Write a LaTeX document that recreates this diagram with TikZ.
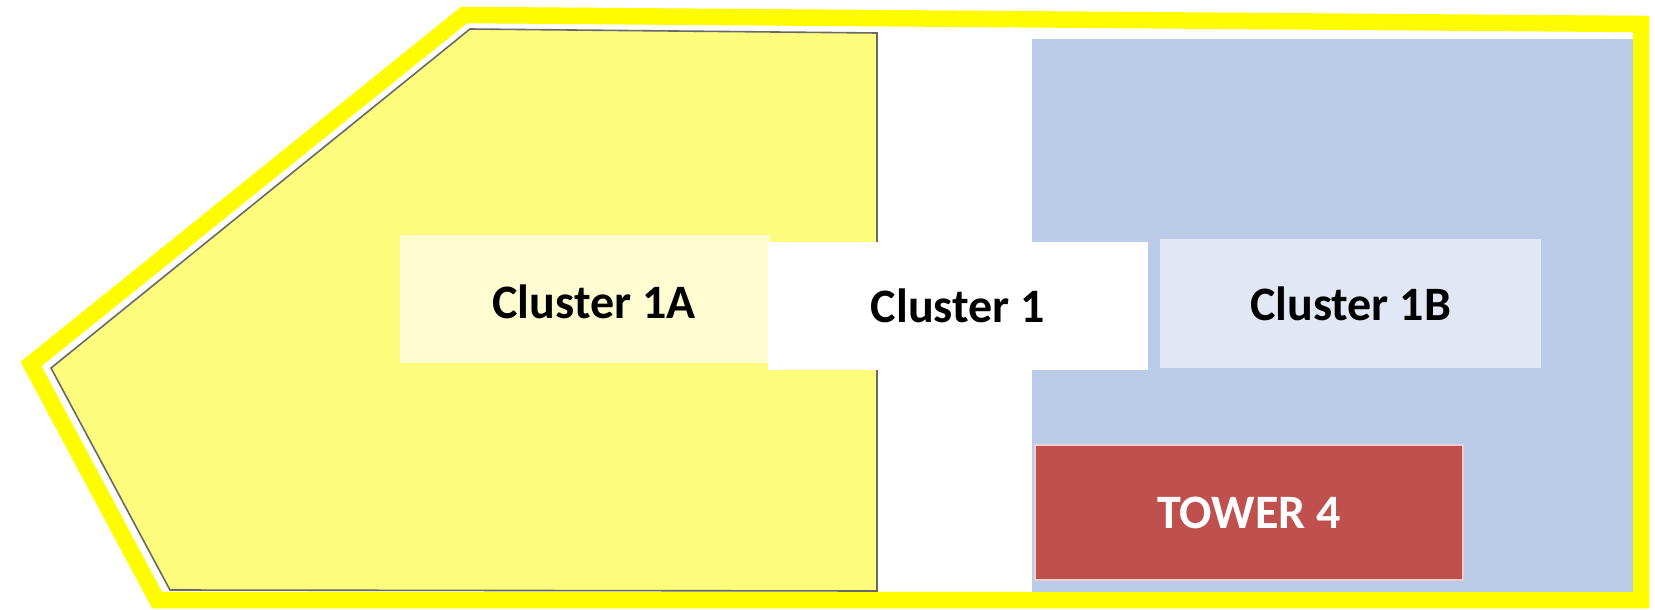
\documentclass[tikz,border=0pt]{standalone}
\usepackage{fontspec}
\setmainfont{Carlito}
\definecolor{bandyellow}{RGB}{255,252,0}
\definecolor{zoneyellow}{RGB}{253,252,125}
\definecolor{labelyellow}{RGB}{254,253,210}
\definecolor{zoneblue}{RGB}{186,203,232}
\definecolor{labelblue}{RGB}{225,231,244}
\definecolor{towerred}{RGB}{192,80,77}
\definecolor{towerrim}{RGB}{242,205,205}
\definecolor{edgegray}{RGB}{105,105,105}
\tikzset{
  lbl/.style={font=\fontsize{48}{52}\selectfont\bfseries, text=black, inner sep=0pt},
  box/.style={draw=none, inner sep=0pt, outer sep=0pt},
}
\begin{document}
\begin{tikzpicture}[x=1pt,y=-1pt]
\useasboundingbox (0,0) rectangle (1655,610);
% outer yellow boundary
\draw[bandyellow, line width=16.5pt, line join=miter]
  (464,15) -- (1641,24) -- (1641,600) -- (157,600) -- (31,364) -- cycle;
% zone 1A
\draw[edgegray, line width=1.6pt, fill=zoneyellow]
  (470,29) -- (877,33) -- (877,591) -- (170,590) -- (51,368) -- cycle;
% zone 1B (blue)
\fill[zoneblue] (1032,39) rectangle (1633,592);
% label boxes
\node[box, fill=labelyellow, minimum width=370pt, minimum height=128pt, anchor=north west] (c1abox) at (400,235) {};
\node[box, fill=white, minimum width=380pt, minimum height=128pt, anchor=north west] (c1box) at (768,242) {};
\node[box, fill=labelblue, minimum width=381pt, minimum height=129pt, anchor=north west] (c1bbox) at (1160,239) {};
\node[box, fill=towerred, draw=towerrim, line width=1.5pt, minimum width=428pt, minimum height=135pt, anchor=north west] (t4box) at (1035,445) {};
% texts
\node[lbl] (c1a) at (594,302) {Cluster 1A};
\node[lbl] (c1) at (c1box.center) {Cluster 1};
\node[lbl] (c1b) at (c1bbox.center) {Cluster 1B};
\node[lbl, text=white] (t4) at (t4box.center) {TOWER 4};
\end{tikzpicture}
\end{document}
